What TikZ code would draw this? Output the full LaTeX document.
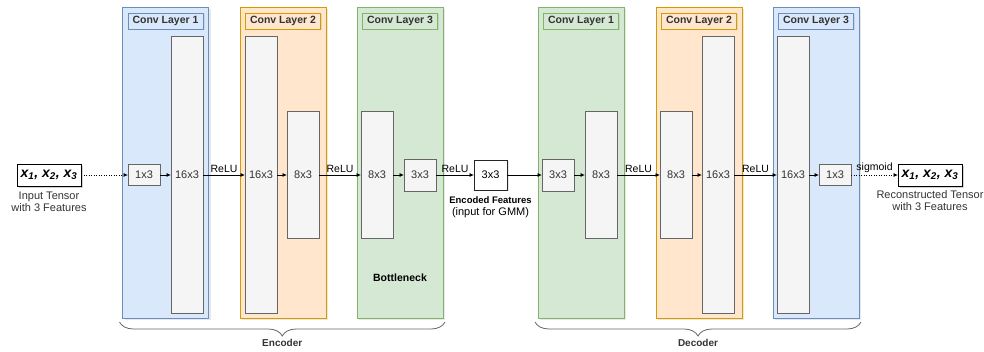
\documentclass[tikz,border=0pt]{standalone}
\usepackage{fontspec}
\setmainfont{Liberation Sans}
\usetikzlibrary{positioning,arrows.meta,calc,shadows,decorations.pathreplacing}
\definecolor{blueFill}{HTML}{DAE8FC}
\definecolor{blueLine}{HTML}{6C8EBF}
\definecolor{orangeFill}{HTML}{FFE6CC}
\definecolor{orangeLine}{HTML}{D79B00}
\definecolor{greenFill}{HTML}{D5E8D4}
\definecolor{greenLine}{HTML}{82B366}
\definecolor{boxFill}{HTML}{F5F5F5}
\definecolor{boxLine}{HTML}{666666}
\definecolor{textGray}{HTML}{333333}

\begin{document}
\begin{tikzpicture}[
  x=1pt, y=-1pt,
  >=Latex,
  flow/.style={-{Latex[length=4.5pt,width=4pt]}, line width=0.8pt, draw=black},
  dotflow/.style={flow, dash pattern=on 1pt off 1.5pt},
  panel/.style={
    rectangle,
    draw=#1Line,
    fill=#1Fill,
    line width=0.9pt,
    minimum width=86pt,
    minimum height=311pt,
    inner sep=0pt,
    outer sep=0pt,
    drop shadow={shadow xshift=2pt, shadow yshift=-2pt, opacity=0.18}
  },
  tag/.style={
    rectangle,
    draw=#1Line,
    fill=#1Fill,
    line width=0.9pt,
    minimum width=75pt,
    minimum height=16pt,
    inner sep=0pt,
    outer sep=0pt,
    font=\fontsize{10.5}{12}\selectfont\bfseries,
    text=textGray,
    drop shadow={shadow xshift=1.5pt, shadow yshift=-1.5pt, opacity=0.2}
  },
  blk/.style={
    rectangle,
    draw=boxLine,
    fill=boxFill,
    line width=0.8pt,
    minimum width=32pt,
    inner sep=0pt,
    outer sep=0pt,
    font=\fontsize{11}{13}\selectfont,
    text=textGray
  },
  tallbox/.style={blk, minimum height=277pt},
  midbox/.style={blk, minimum height=127pt},
  sqbox/.style={blk, minimum height=32pt},
  flatbox/.style={blk, minimum height=21pt},
  codebox/.style={
    rectangle,
    draw=black!85,
    fill=white,
    line width=0.8pt,
    minimum width=33pt,
    minimum height=30pt,
    inner sep=0pt,
    outer sep=0pt,
    font=\fontsize{11}{13}\selectfont,
    drop shadow={shadow xshift=1.5pt, shadow yshift=-1.5pt, opacity=0.2}
  },
  io/.style={
    rectangle,
    draw=black,
    fill=white,
    line width=0.9pt,
    minimum width=64pt,
    minimum height=22pt,
    inner sep=0pt,
    outer sep=0pt,
    font=\fontsize{14}{16}\selectfont\bfseries\itshape,
    drop shadow={shadow xshift=2pt, shadow yshift=-2pt, opacity=0.35}
  },
  note/.style={font=\fontsize{11}{12}\selectfont, text=textGray, align=center, inner sep=1pt},
  lbl/.style={font=\fontsize{10.5}{12}\selectfont, above, inner sep=1.5pt},
  brace/.style={decorate, decoration={brace, amplitude=14pt}, draw=boxLine, line width=0.8pt},
  part/.style={font=\fontsize{10}{12}\selectfont\bfseries, text=textGray}
]
  \useasboundingbox (0,0) rectangle (984,352);

  % Layer panels
  \node[panel=blue] (encP1) at (165.5,162.5) {};
  \node[panel=orange] (encP2) at (283,162.5) {};
  \node[panel=green] (encP3) at (400,162.5) {};
  \node[panel=green] (decP1) at (581,162.5) {};
  \node[panel=orange] (decP2) at (699,162.5) {};
  \node[panel=blue] (decP3) at (816,162.5) {};

  \node[tag=blue, below=6pt of encP1.north] (encT1) {Conv Layer 1};
  \node[tag=orange, below=6pt of encP2.north] (encT2) {Conv Layer 2};
  \node[tag=green, below=6pt of encP3.north] (encT3) {Conv Layer 3};
  \node[tag=green, below=6pt of decP1.north] (decT1) {Conv Layer 1};
  \node[tag=orange, below=6pt of decP2.north] (decT2) {Conv Layer 2};
  \node[tag=blue, below=6pt of decP3.north] (decT3) {Conv Layer 3};

  % Input
  \node[io] (in) at (49,175) {x\textsubscript{1}, x\textsubscript{2}, x\textsubscript{3}};
  \node[note, below=5pt of in] (inLbl) {Input Tensor\\with 3 Features};

  % Encoder
  \node[flatbox, right=47pt of in] (e1a) {1x3};
  \node[tallbox, right=11pt of e1a] (e1b) {16x3};
  \node[tallbox, right=42pt of e1b] (e2a) {16x3};
  \node[midbox, right=10pt of e2a] (e2b) {8x3};
  \node[midbox, right=42pt of e2b] (e3a) {8x3};
  \node[sqbox, right=11pt of e3a] (e3b) {3x3};
  \node[part, font=\fontsize{10.5}{12}\selectfont\bfseries, text=black] (neck) at ($(encP3.south)+(0,-40)$) {Bottleneck};

  % Code
  \node[codebox, right=38pt of e3b] (code) {3x3};
  \node[note, text=black, below=5pt of code] (codeLbl)
    {{\fontsize{9.5}{11}\selectfont\bfseries Encoded Features}\\(input for GMM)};

  % Decoder
  \node[sqbox, right=35pt of code] (d1a) {3x3};
  \node[midbox, right=11pt of d1a] (d1b) {8x3};
  \node[midbox, right=43pt of d1b] (d2a) {8x3};
  \node[tallbox, right=10pt of d2a] (d2b) {16x3};
  \node[tallbox, right=43pt of d2b] (d3a) {16x3};
  \node[flatbox, right=10pt of d3a] (d3b) {1x3};

  % Output
  \node[io, right=47pt of d3b] (out) {x\textsubscript{1}, x\textsubscript{2}, x\textsubscript{3}};
  \node[note, below=3pt of out] (outLbl) {Reconstructed Tensor\\with 3 Features};

  % Flows
  \draw[dotflow] (in) -- (e1a);
  \draw[flow] (e1a) -- (e1b);
  \draw[flow] (e1b) -- node[lbl] {ReLU} (e2a);
  \draw[flow] (e2a) -- (e2b);
  \draw[flow] (e2b) -- node[lbl] {ReLU} (e3a);
  \draw[flow] (e3a) -- (e3b);
  \draw[flow] (e3b) -- node[lbl] {ReLU} (code);
  \draw[flow] (code) -- (d1a);
  \draw[flow] (d1a) -- (d1b);
  \draw[flow] (d1b) -- node[lbl] {ReLU} (d2a);
  \draw[flow] (d2a) -- (d2b);
  \draw[flow] (d2b) -- node[lbl] {ReLU} (d3a);
  \draw[flow] (d3a) -- (d3b);
  \draw[dotflow] (d3b) -- node[lbl] {sigmoid} (out);

  % Braces
  \draw[brace] ([xshift=2pt,yshift=-4pt]encP3.south east) -- ([xshift=-3pt,yshift=-4pt]encP1.south west)
    node[part, midway, yshift=-21pt] {Encoder};
  \draw[brace] ([xshift=2pt,yshift=-4pt]decP3.south east) -- ([xshift=-3pt,yshift=-4pt]decP1.south west)
    node[part, midway, yshift=-21pt] {Decoder};
\end{tikzpicture}
\end{document}
